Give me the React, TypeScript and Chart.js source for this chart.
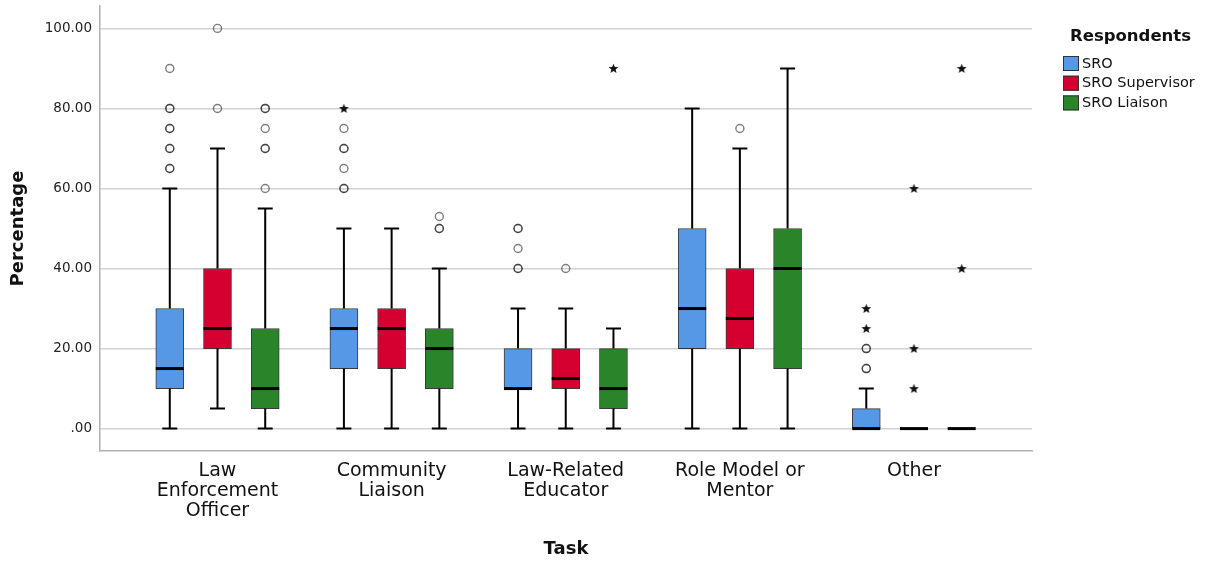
import React, { useEffect, useRef } from "react";
import { Chart, registerables } from "chart.js";

Chart.register(...registerables);

// ---------- data ----------
const categoryLabels: string[][] = [
  ["Law", "Enforcement", "Officer"],
  ["Community", "Liaison"],
  ["Law-Related", "Educator"],
  ["Role Model or", "Mentor"],
  ["Other"],
];
const seriesNames = ["SRO", "SRO Supervisor", "SRO Liaison"];
const yTicks = [0, 20, 40, 60, 80, 100];

// SRO
const sroMin = [0, 0, 0, 0, 0];
const sroQ1 = [10, 15, 10, 20, 0];
const sroMedian = [15, 25, 10, 30, 0];
const sroQ3 = [30, 30, 20, 50, 5];
const sroMax = [60, 50, 30, 80, 10];
const sroOutliers = [[90, 80, 80, 75, 75, 70, 70, 65, 65], [75, 70, 70, 65, 60, 60], [50, 50, 45, 40, 40], [], [20, 20, 15, 15]];
const sroExtremes = [[], [80], [], [], [30, 25]];

// SRO Supervisor
const supMin = [5, 0, 0, 0, 0];
const supQ1 = [20, 15, 10, 20, 0];
const supMedian = [25, 25, 12.5, 27.5, 0];
const supQ3 = [40, 30, 20, 40, 0];
const supMax = [70, 50, 30, 70, 0];
const supOutliers = [[100, 80], [], [40], [75], []];
const supExtremes = [[], [], [], [], [60, 20, 10]];

// SRO Liaison
const liaMin = [0, 0, 0, 0, 0];
const liaQ1 = [5, 10, 5, 15, 0];
const liaMedian = [10, 20, 10, 40, 0];
const liaQ3 = [25, 25, 20, 50, 0];
const liaMax = [55, 40, 25, 90, 0];
const liaOutliers = [[80, 80, 75, 70, 70, 60], [53, 50, 50], [], [], []];
const liaExtremes = [[], [], [90], [], [90, 40]];

// ---------- styling ----------
const seriesColors = ["#5697E6", "#D5002F", "#29842A"];
const seriesOffsets = [-0.274, 0, 0.274];
const FONT = '"DejaVu Sans", sans-serif';

const seriesStats = [
  { min: sroMin, q1: sroQ1, med: sroMedian, q3: sroQ3, max: sroMax, out: sroOutliers, ext: sroExtremes },
  { min: supMin, q1: supQ1, med: supMedian, q3: supQ3, max: supMax, out: supOutliers, ext: supExtremes },
  { min: liaMin, q1: liaQ1, med: liaMedian, q3: liaQ3, max: liaMax, out: liaOutliers, ext: liaExtremes },
];

function makeStar(): HTMLCanvasElement {
  const c = document.createElement("canvas");
  c.width = 11;
  c.height = 11;
  const g = c.getContext("2d")!;
  g.fillStyle = "#111";
  g.beginPath();
  for (let k = 0; k < 10; k++) {
    const r = k % 2 === 0 ? 5.2 : 2.2;
    const a = -Math.PI / 2 + (k * Math.PI) / 5;
    const px = 5.5 + r * Math.cos(a);
    const py = 5.9 + r * Math.sin(a);
    if (k === 0) g.moveTo(px, py);
    else g.lineTo(px, py);
  }
  g.closePath();
  g.fill();
  return c;
}

const boxPlugin = {
  id: "boxWhiskers",
  afterDatasetsDraw(chart: any) {
    const { ctx } = chart;
    const xs = chart.scales.x;
    const ys = chart.scales.y;
    ctx.save();
    ctx.strokeStyle = "#000";
    ctx.lineCap = "butt";
    seriesStats.forEach((st, s) => {
      categoryLabels.forEach((_, i) => {
        const cx = xs.getPixelForValue(i + 1 + seriesOffsets[s]);
        const pMin = ys.getPixelForValue(st.min[i]);
        const pQ1 = ys.getPixelForValue(st.q1[i]);
        const pMed = ys.getPixelForValue(st.med[i]);
        const pQ3 = ys.getPixelForValue(st.q3[i]);
        const pMax = ys.getPixelForValue(st.max[i]);
        ctx.lineWidth = 2;
        ctx.beginPath();
        if (st.max[i] > st.q3[i]) {
          ctx.moveTo(cx, pQ3);
          ctx.lineTo(cx, pMax);
          ctx.moveTo(cx - 7.5, pMax);
          ctx.lineTo(cx + 7.5, pMax);
        }
        if (st.min[i] < st.q1[i]) {
          ctx.moveTo(cx, pQ1);
          ctx.lineTo(cx, pMin);
          ctx.moveTo(cx - 7.5, pMin);
          ctx.lineTo(cx + 7.5, pMin);
        }
        ctx.stroke();
        ctx.lineWidth = 3;
        ctx.beginPath();
        ctx.moveTo(cx - 14, pMed);
        ctx.lineTo(cx + 14, pMed);
        ctx.stroke();
      });
    });
    ctx.restore();
  },
};

const legendPlugin = {
  id: "spssLegend",
  afterDraw(chart: any) {
    const { ctx, chartArea } = chart;
    const x0 = chartArea.right + 31;
    ctx.save();
    ctx.textAlign = "left";
    ctx.textBaseline = "middle";
    ctx.fillStyle = "#111";
    ctx.font = `bold 16.5px ${FONT}`;
    ctx.fillText("Respondents", x0 + 7, 37);
    ctx.font = `14.5px ${FONT}`;
    seriesNames.forEach((name, s) => {
      const yTop = 56 + s * 19.7;
      ctx.fillStyle = seriesColors[s];
      ctx.fillRect(x0, yTop, 16, 15);
      ctx.strokeStyle = "#333";
      ctx.lineWidth = 1;
      ctx.strokeRect(x0 + 0.5, yTop + 0.5, 15, 14);
      ctx.fillStyle = "#111";
      ctx.fillText(name, x0 + 19, yTop + 8);
    });
    ctx.restore();
  },
};

export default function App() {
  const canvasRef = useRef<HTMLCanvasElement | null>(null);

  useEffect(() => {
    if (!canvasRef.current) return;
    Chart.defaults.font.family = FONT;
    const star = makeStar();

    const boxDatasets: any[] = seriesNames.map((name, s) => ({
      type: "bar",
      label: name,
      data: categoryLabels.map((_, i) => ({
        x: i + 1 + seriesOffsets[s],
        y: [seriesStats[s].q1[i], seriesStats[s].q3[i]],
      })),
      backgroundColor: seriesColors[s],
      borderColor: "#3a3a3a",
      borderWidth: 1,
      borderSkipped: false,
      barThickness: 28,
      grouped: false,
      order: 2,
    }));

    const outlierDatasets: any[] = seriesNames.map((name, s) => ({
      type: "scatter",
      label: name + " outliers",
      data: seriesStats[s].out.flatMap((vals, i) =>
        vals.map((v) => ({ x: i + 1 + seriesOffsets[s], y: v }))
      ),
      pointStyle: "circle",
      pointRadius: 4,
      pointBorderWidth: 1.4,
      pointBorderColor: "rgba(20,20,20,0.55)",
      pointBackgroundColor: "rgba(255,255,255,0)",
      order: 1,
    }));

    const extremeDatasets: any[] = seriesNames.map((name, s) => ({
      type: "scatter",
      label: name + " extremes",
      data: seriesStats[s].ext.flatMap((vals, i) =>
        vals.map((v) => ({ x: i + 1 + seriesOffsets[s], y: v }))
      ),
      pointStyle: star,
      pointRadius: 5,
      order: 1,
    }));

    const chart = new Chart(canvasRef.current, {
      type: "bar",
      data: { datasets: [...boxDatasets, ...outlierDatasets, ...extremeDatasets] },
      plugins: [boxPlugin, legendPlugin],
      options: {
        animation: false,
        responsive: true,
        maintainAspectRatio: false,
        events: [],
        layout: { padding: { top: 4, right: 176, bottom: 0, left: 0 } },
        plugins: {
          legend: { display: false },
          tooltip: { enabled: false },
        },
        scales: {
          x: {
            type: "linear",
            offset: false,
            min: 0.3252,
            max: 5.6777,
            afterBuildTicks: (axis: any) => {
              axis.ticks = categoryLabels.map((_, i) => ({ value: i + 1 }));
            },
            afterFit: (sc: any) => {
              sc.height = 111;
              sc.paddingLeft = 0;
              sc.paddingRight = 0;
            },
            ticks: {
              callback: (v: any) => categoryLabels[Math.round(Number(v)) - 1] ?? "",
              font: { size: 19, lineHeight: 1.05 },
              color: "#111",
              padding: 10,
              maxRotation: 0,
              autoSkip: false,
            },
            grid: { display: false, drawTicks: false, offset: false },
            border: { display: true, color: "#b0b0b0", width: 1.5 },
            title: {
              display: true,
              text: "Task",
              color: "#111",
              font: { size: 18, weight: "bold" },
              padding: { top: 0, bottom: 2 },
            },
          },
          y: {
            type: "linear",
            min: -5.6,
            max: 105.6,
            afterBuildTicks: (axis: any) => {
              axis.ticks = yTicks.map((v) => ({ value: v }));
            },
            afterFit: (sc: any) => {
              sc.width = 100;
              sc.paddingTop = 0;
              sc.paddingBottom = 0;
            },
            ticks: {
              callback: (v: any) => (Number(v) === 0 ? ".00" : Number(v).toFixed(2)),
              font: { size: 13.5 },
              color: "#222",
              padding: 8,
            },
            grid: { color: "#d2d2d2", lineWidth: 1.5, drawTicks: false },
            border: { display: true, color: "#b0b0b0", width: 1.5 },
            title: {
              display: true,
              text: "Percentage",
              color: "#111",
              font: { size: 18, weight: "bold" },
              padding: { top: 8, bottom: 0 },
            },
          },
        },
      } as any,
    });
    return () => chart.destroy();
  }, []);

  return (
    <div style={{ position: "absolute", left: 0, top: 0, width: 1208, height: 562 }}>
      <canvas ref={canvasRef} />
    </div>
  );
}
